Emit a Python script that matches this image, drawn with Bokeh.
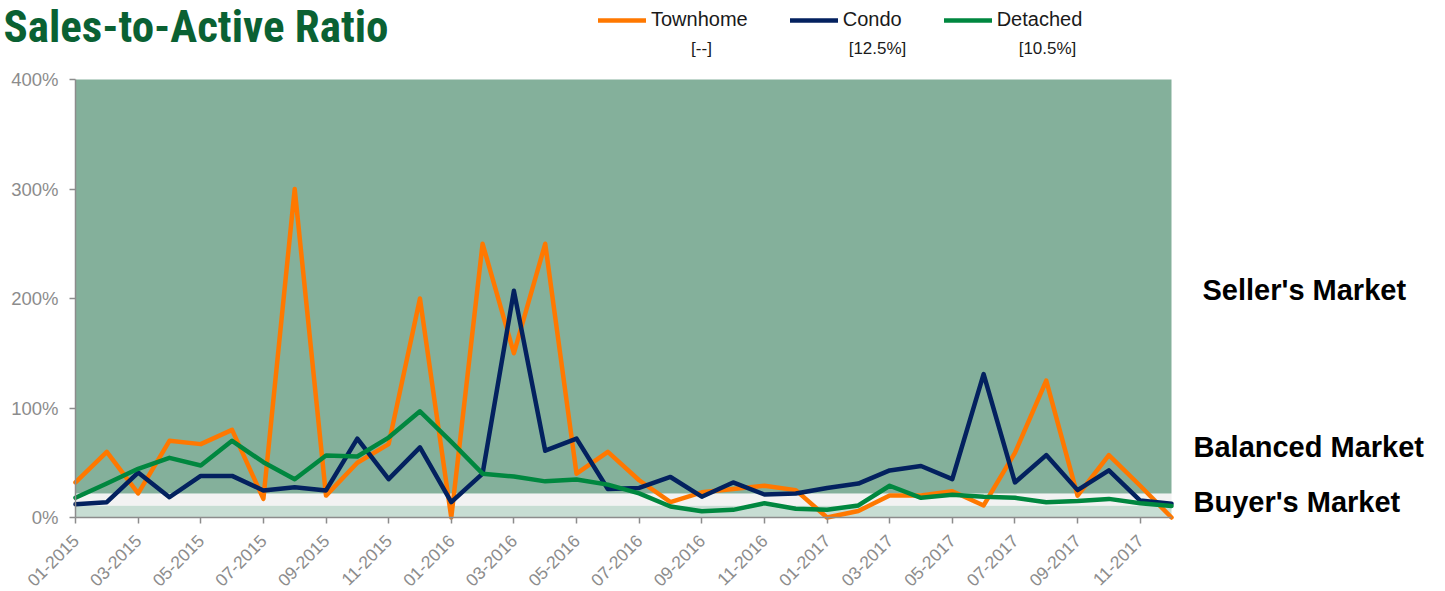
import math
from bokeh.plotting import figure
from bokeh.models import (Range1d, FixedTicker, Label, Legend, LegendItem)
from bokeh.embed import file_html
from bokeh.resources import INLINE

# ---------------- data ----------------
months = ["01-2015", "02-2015", "03-2015", "04-2015", "05-2015", "06-2015",
          "07-2015", "08-2015", "09-2015", "10-2015", "11-2015", "12-2015",
          "01-2016", "02-2016", "03-2016", "04-2016", "05-2016", "06-2016",
          "07-2016", "08-2016", "09-2016", "10-2016", "11-2016", "12-2016",
          "01-2017", "02-2017", "03-2017", "04-2017", "05-2017", "06-2017",
          "07-2017", "08-2017", "09-2017", "10-2017", "11-2017", "12-2017"]

townhome = [32, 60, 22, 70, 67, 80, 17, 300, 20, 50, 67, 200,
            0, 250, 150, 250, 40, 60, 34, 14, 23, 26, 29, 25,
            0, 6, 20, 20, 24, 11, 59, 125, 20, 57, 29, 0]

condo = [12, 14, 41, 18.5, 38, 38, 24.7, 27.7, 24.7, 72, 35, 64,
         14, 40, 207, 61, 72, 26, 27, 37, 19, 32, 21, 22,
         27, 31, 43, 47, 35, 131, 32, 57, 25, 43, 15.5, 12.5]

detached = [18, 31, 44.5, 54.5, 47.5, 70, 50.5, 35, 56.6, 55.7, 73, 97,
            69, 40, 37.4, 33, 34.7, 30, 22, 10, 5.8, 7, 13, 8,
            7, 11, 29, 18, 20.7, 19, 18, 14, 15, 17, 13, 10.5]

series_names = ["Townhome", "Condo", "Detached"]
series_latest = ["[--]", "[12.5%]", "[10.5%]"]
series_colors = ["#ff7800", "#03215f", "#00873f"]

band_names = ["Buyer's Market", "Balanced Market", "Seller's Market"]
band_low = [0, 11, 22]
band_high = [11, 22, 400]
band_colors = ["#c7ddd3", "#f2f2f2", "#84b09b"]

y_ticks = [0, 100, 200, 300, 400]
y_tick_labels = ["0%", "100%", "200%", "300%", "400%"]

x_idx = list(range(len(months)))
x_tick_idx = x_idx[::2]
x_tick_labels = months[::2]

# ---------------- layout (page px) ----------------
W, H = 1445, 591
FL, FR, FT, FB = 75, 1171, 79, 517          # plotting area in page pixels
XMAX = len(months) - 1
YMAX = 400
SX = (FR - FL) / XMAX                        # px per month
SY = (FB - FT) / YMAX                        # px per percent

CONDENSED = ("Roboto Condensed, Noto Sans Condensed, Liberation Sans Narrow, "
             "Arial Narrow, DejaVu Sans Condensed, Liberation Sans")


def dx(px):
    return (px - FL) / SX


def dy(py):
    return (FB - py) / SY


p = figure(width=W, height=H, output_backend="svg", toolbar_location=None,
           x_range=Range1d(dx(0), dx(W)), y_range=Range1d(dy(H), dy(0)),
           min_border=0, min_border_left=0, min_border_right=0,
           min_border_top=0, min_border_bottom=0, title=None)
p.outline_line_color = None
p.background_fill_color = "white"
p.border_fill_color = "white"
p.xgrid.visible = False
p.ygrid.visible = False

# bands
p.quad(left=[x_idx[0]] * 3, right=[x_idx[-1]] * 3, bottom=band_low, top=band_high,
       fill_color=band_colors, line_color=None)

# lines
renderers = []
for vals, col in zip([townhome, condo, detached], series_colors):
    r = p.line(x_idx, vals, line_color=col, line_width=4.5, line_join="round",
               line_cap="round")
    renderers.append(r)

# axes (fixed at the data origin)
AX_COL = "#8c8c8c"
p.xaxis.fixed_location = 0
p.yaxis.fixed_location = 0
p.xaxis.bounds = (x_idx[0], x_idx[-1])
p.yaxis.bounds = (y_ticks[0], y_ticks[-1])

p.yaxis.ticker = FixedTicker(ticks=y_ticks)
p.yaxis.major_label_overrides = {t: l for t, l in zip(y_ticks, y_tick_labels)}
p.yaxis.major_label_text_font = "Liberation Sans"
p.yaxis.major_label_text_font_size = "18.5px"
p.yaxis.major_label_text_color = AX_COL
p.yaxis.major_label_standoff = 11

p.xaxis.ticker = FixedTicker(ticks=x_tick_idx)
p.xaxis.major_label_overrides = {t: l for t, l in zip(x_tick_idx, x_tick_labels)}
p.xaxis.major_label_orientation = math.pi / 4
p.xaxis.major_label_text_font = "Liberation Sans"
p.xaxis.major_label_text_font_size = "17.5px"
p.xaxis.major_label_text_color = AX_COL
p.xaxis.major_label_standoff = 14

for ax in (p.xaxis[0], p.yaxis[0]):
    ax.axis_line_color = AX_COL
    ax.axis_line_width = 1.5
    ax.major_tick_line_color = AX_COL
    ax.major_tick_line_width = 1.5
    ax.major_tick_out = 6
    ax.major_tick_in = 0
    ax.minor_tick_line_color = None

# title
p.add_layout(Label(x=dx(3), y=dy(26), text="Sales-to-Active Ratio",
                   text_font=CONDENSED, text_font_style="bold",
                   text_font_size="45px", text_color="#0a6133",
                   text_baseline="middle", text_align="left"))

# market annotations
ann_x = [1202, 1193, 1193]
ann_mid = [289, 446, 501]
for name, ax_, am in zip(["Seller's Market", "Balanced Market", "Buyer's Market"],
                         ann_x, ann_mid):
    p.add_layout(Label(x=dx(ax_), y=dy(am), text=name, text_font="Liberation Sans",
                       text_font_style="bold", text_font_size="29px",
                       text_color="#000000", text_baseline="middle",
                       text_align="left"))

# legend
legend = Legend(items=[LegendItem(label=n, renderers=[r])
                       for n, r in zip(series_names, renderers)],
                orientation="horizontal", location=(598, H - 31),
                glyph_width=48, glyph_height=20, label_height=20,
                label_standoff=5, spacing=42, padding=0, margin=0,
                border_line_color=None, background_fill_alpha=0,
                label_text_font="Liberation Sans", label_text_font_size="20px",
                label_text_color="#1a1a1a")
p.add_layout(legend)

for txt, cx in zip(series_latest, [701, 877, 1047]):
    p.add_layout(Label(x=dx(cx), y=dy(48), text=txt, text_font="Liberation Sans",
                       text_font_size="17px", text_color="#1a1a1a",
                       text_align="center", text_baseline="middle"))

open("out.html", "w").write(file_html(p, INLINE))
